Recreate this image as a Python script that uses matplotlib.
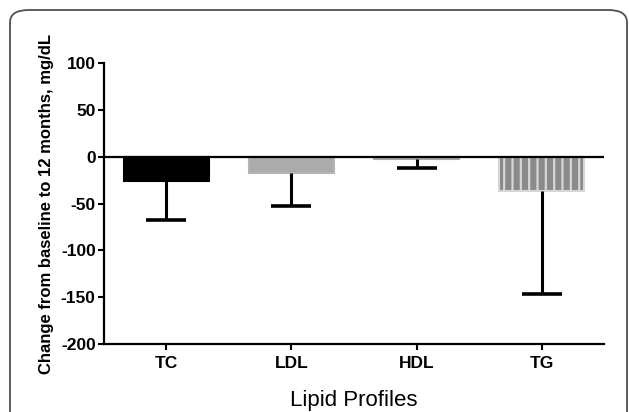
import matplotlib
import matplotlib.pyplot as plt
import numpy as np
from matplotlib.patches import FancyBboxPatch

matplotlib.use("Agg")

plt.rcParams["font.family"] = ["Liberation Sans", "DejaVu Sans"]
plt.rcParams["hatch.linewidth"] = 1.6
plt.rcParams["axes.unicode_minus"] = False

labels = ["TC", "LDL", "HDL", "TG"]
means = [-26, -17.5, -2.5, -36.5]
lows = [-68, -53, -12, -147]
colors = ["#000000", "#ababab", "#a0a0a0", "#8a8a8a"]
edges = ["#000000", "#b4b4b4", "#a8a8a8", "#d6d6d6"]
hatches = [None, None, None, "||"]

fig = plt.figure(figsize=(6.29, 4.12), dpi=100)
ax = fig.add_axes([0.1653, 0.165, 0.795, 0.6814])

x = np.arange(len(labels))
for xi, m, c, e, h in zip(x, means, colors, edges, hatches):
    ax.bar(xi, m, width=0.68, color=c, edgecolor=e, hatch=h, linewidth=1.5, zorder=2)

# error bars only go downward, no cap at the bar end
ax.vlines(x, means, lows, color="black", linewidth=2.2, zorder=3)
ax.hlines(lows, x - 0.16, x + 0.16, color="black", linewidth=2.6, zorder=3)
ax.axhline(0, color="black", linewidth=1.6, zorder=4)

ax.set_xlim(-0.5, 3.5)
ax.set_ylim(-200, 100)
ax.set_yticks([100, 50, 0, -50, -100, -150, -200])
ax.set_xticks(x)
ax.set_xticklabels(labels, fontweight="bold", fontsize=12.5)
for t in ax.get_yticklabels():
    t.set_fontweight("bold")
    t.set_fontsize(12.5)

for side in ["top", "right"]:
    ax.spines[side].set_visible(False)
for side in ["left", "bottom"]:
    ax.spines[side].set_linewidth(1.6)
ax.tick_params(direction="out", length=4.5, width=1.5, pad=1.5)
ax.tick_params(axis="x", pad=4)

ax.set_ylabel("Change from baseline to 12 months, mg/dL", fontweight="bold", fontsize=12, labelpad=5)
ax.set_xlabel("Lipid Profiles", fontsize=16, labelpad=14)

frame = FancyBboxPatch((10 / 629, -0.2), 617 / 629, 1.2 - 10 / 412,
                       boxstyle="round,pad=0,rounding_size=0.03",
                       transform=fig.transFigure, fill=False,
                       edgecolor="#505050", linewidth=1.3)
fig.patches.append(frame)

fig.savefig("out.png", dpi=100)
